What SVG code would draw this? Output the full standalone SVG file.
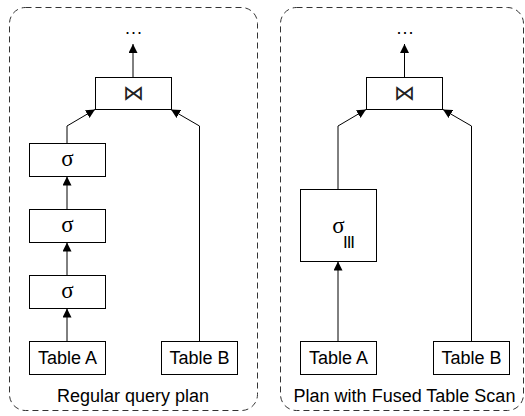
<svg xmlns="http://www.w3.org/2000/svg" width="525" height="416" viewBox="0 0 525 416">
<style>
.panel{fill:none;stroke:#333;stroke-width:1;stroke-dasharray:6 4}
.box{fill:#fff;stroke:#000;stroke-width:1}
.t{font-family:"Liberation Sans",Arial,sans-serif;font-size:18px;fill:#000;text-anchor:middle}
.sig{font-family:"Liberation Serif","Times New Roman",serif;font-size:23px;fill:#000;text-anchor:middle}
.bow{font-family:"DejaVu Sans",sans-serif;font-size:21px;fill:#222;text-anchor:middle}
.dots{font-family:"Liberation Sans",Arial,sans-serif;font-size:18px;fill:#000;text-anchor:middle;letter-spacing:1px}
.c{fill:none;stroke:#000;stroke-width:1}
</style>
<defs>
<marker id="ah" viewBox="0 0 10 10" refX="10" refY="5" markerWidth="9" markerHeight="9" markerUnits="userSpaceOnUse" orient="auto">
<path d="M0,0 L10,5 L0,10 Z" fill="#000"/>
</marker>
</defs>
<g id="panel-left">
<rect class="panel" x="9.5" y="7.5" width="248" height="403" rx="16"/>
<text class="t" x="133" y="402">Regular query plan</text>
</g>
<g id="panel-right">
<rect class="panel" x="280.5" y="7.5" width="243" height="403" rx="16"/>
<text class="t" x="404.5" y="402">Plan with Fused Table Scan</text>
</g>
<g id="connectors">
<path class="c" d="M133,77 L133,44" marker-end="url(#ah)"/>
<path class="c" d="M67,143 L67,126 L95,109.5" marker-end="url(#ah)"/>
<path class="c" d="M199.5,341 L199.5,126 L171,109.5" marker-end="url(#ah)"/>
<path class="c" d="M67,209 L67,176.5" marker-end="url(#ah)"/>
<path class="c" d="M67,275 L67,242.5" marker-end="url(#ah)"/>
<path class="c" d="M67,341 L67,308.5" marker-end="url(#ah)"/>
<path class="c" d="M404.5,77 L404.5,44" marker-end="url(#ah)"/>
<path class="c" d="M338,189 L338,126 L366,109.5" marker-end="url(#ah)"/>
<path class="c" d="M471.5,341 L471.5,126 L443,109.5" marker-end="url(#ah)"/>
<path class="c" d="M338,341 L338,261.5" marker-end="url(#ah)"/>
</g>
<g id="dots-left"><text class="dots" x="134" y="34">...</text></g>
<g id="dots-right"><text class="dots" x="405.5" y="34">...</text></g>
<g id="join-left">
<rect class="box" x="95.5" y="77.5" width="76" height="32"/>
<text class="bow" x="133.5" y="100">⋈</text>
</g>
<g id="sigma1-left">
<rect class="box" x="29.5" y="143.5" width="76" height="33"/>
<text class="sig" x="67.5" y="166">σ</text>
</g>
<g id="sigma2-left">
<rect class="box" x="29.5" y="209.5" width="76" height="33"/>
<text class="sig" x="67.5" y="232">σ</text>
</g>
<g id="sigma3-left">
<rect class="box" x="29.5" y="275.5" width="76" height="33"/>
<text class="sig" x="67.5" y="298">σ</text>
</g>
<g id="tableA-left">
<rect class="box" x="29.5" y="341.5" width="76" height="33"/>
<text class="t" x="67.5" y="364">Table A</text>
</g>
<g id="tableB-left">
<rect class="box" x="161.5" y="341.5" width="76" height="33"/>
<text class="t" x="199.5" y="364">Table B</text>
</g>
<g id="join-right">
<rect class="box" x="366.5" y="77.5" width="76" height="32"/>
<text class="bow" x="404.5" y="100">⋈</text>
</g>
<g id="sigma-fused">
<rect class="box" x="300.5" y="189.5" width="76" height="72"/>
<text class="sig" x="338.5" y="233">σ</text>
<text x="348.5" y="248" style="font-family:'Liberation Sans',Arial,sans-serif;font-size:17px;text-anchor:middle;letter-spacing:-1px">III</text>
</g>
<g id="tableA-right">
<rect class="box" x="300.5" y="341.5" width="76" height="33"/>
<text class="t" x="338.5" y="364">Table A</text>
</g>
<g id="tableB-right">
<rect class="box" x="433.5" y="341.5" width="76" height="33"/>
<text class="t" x="471.5" y="364">Table B</text>
</g>
</svg>
